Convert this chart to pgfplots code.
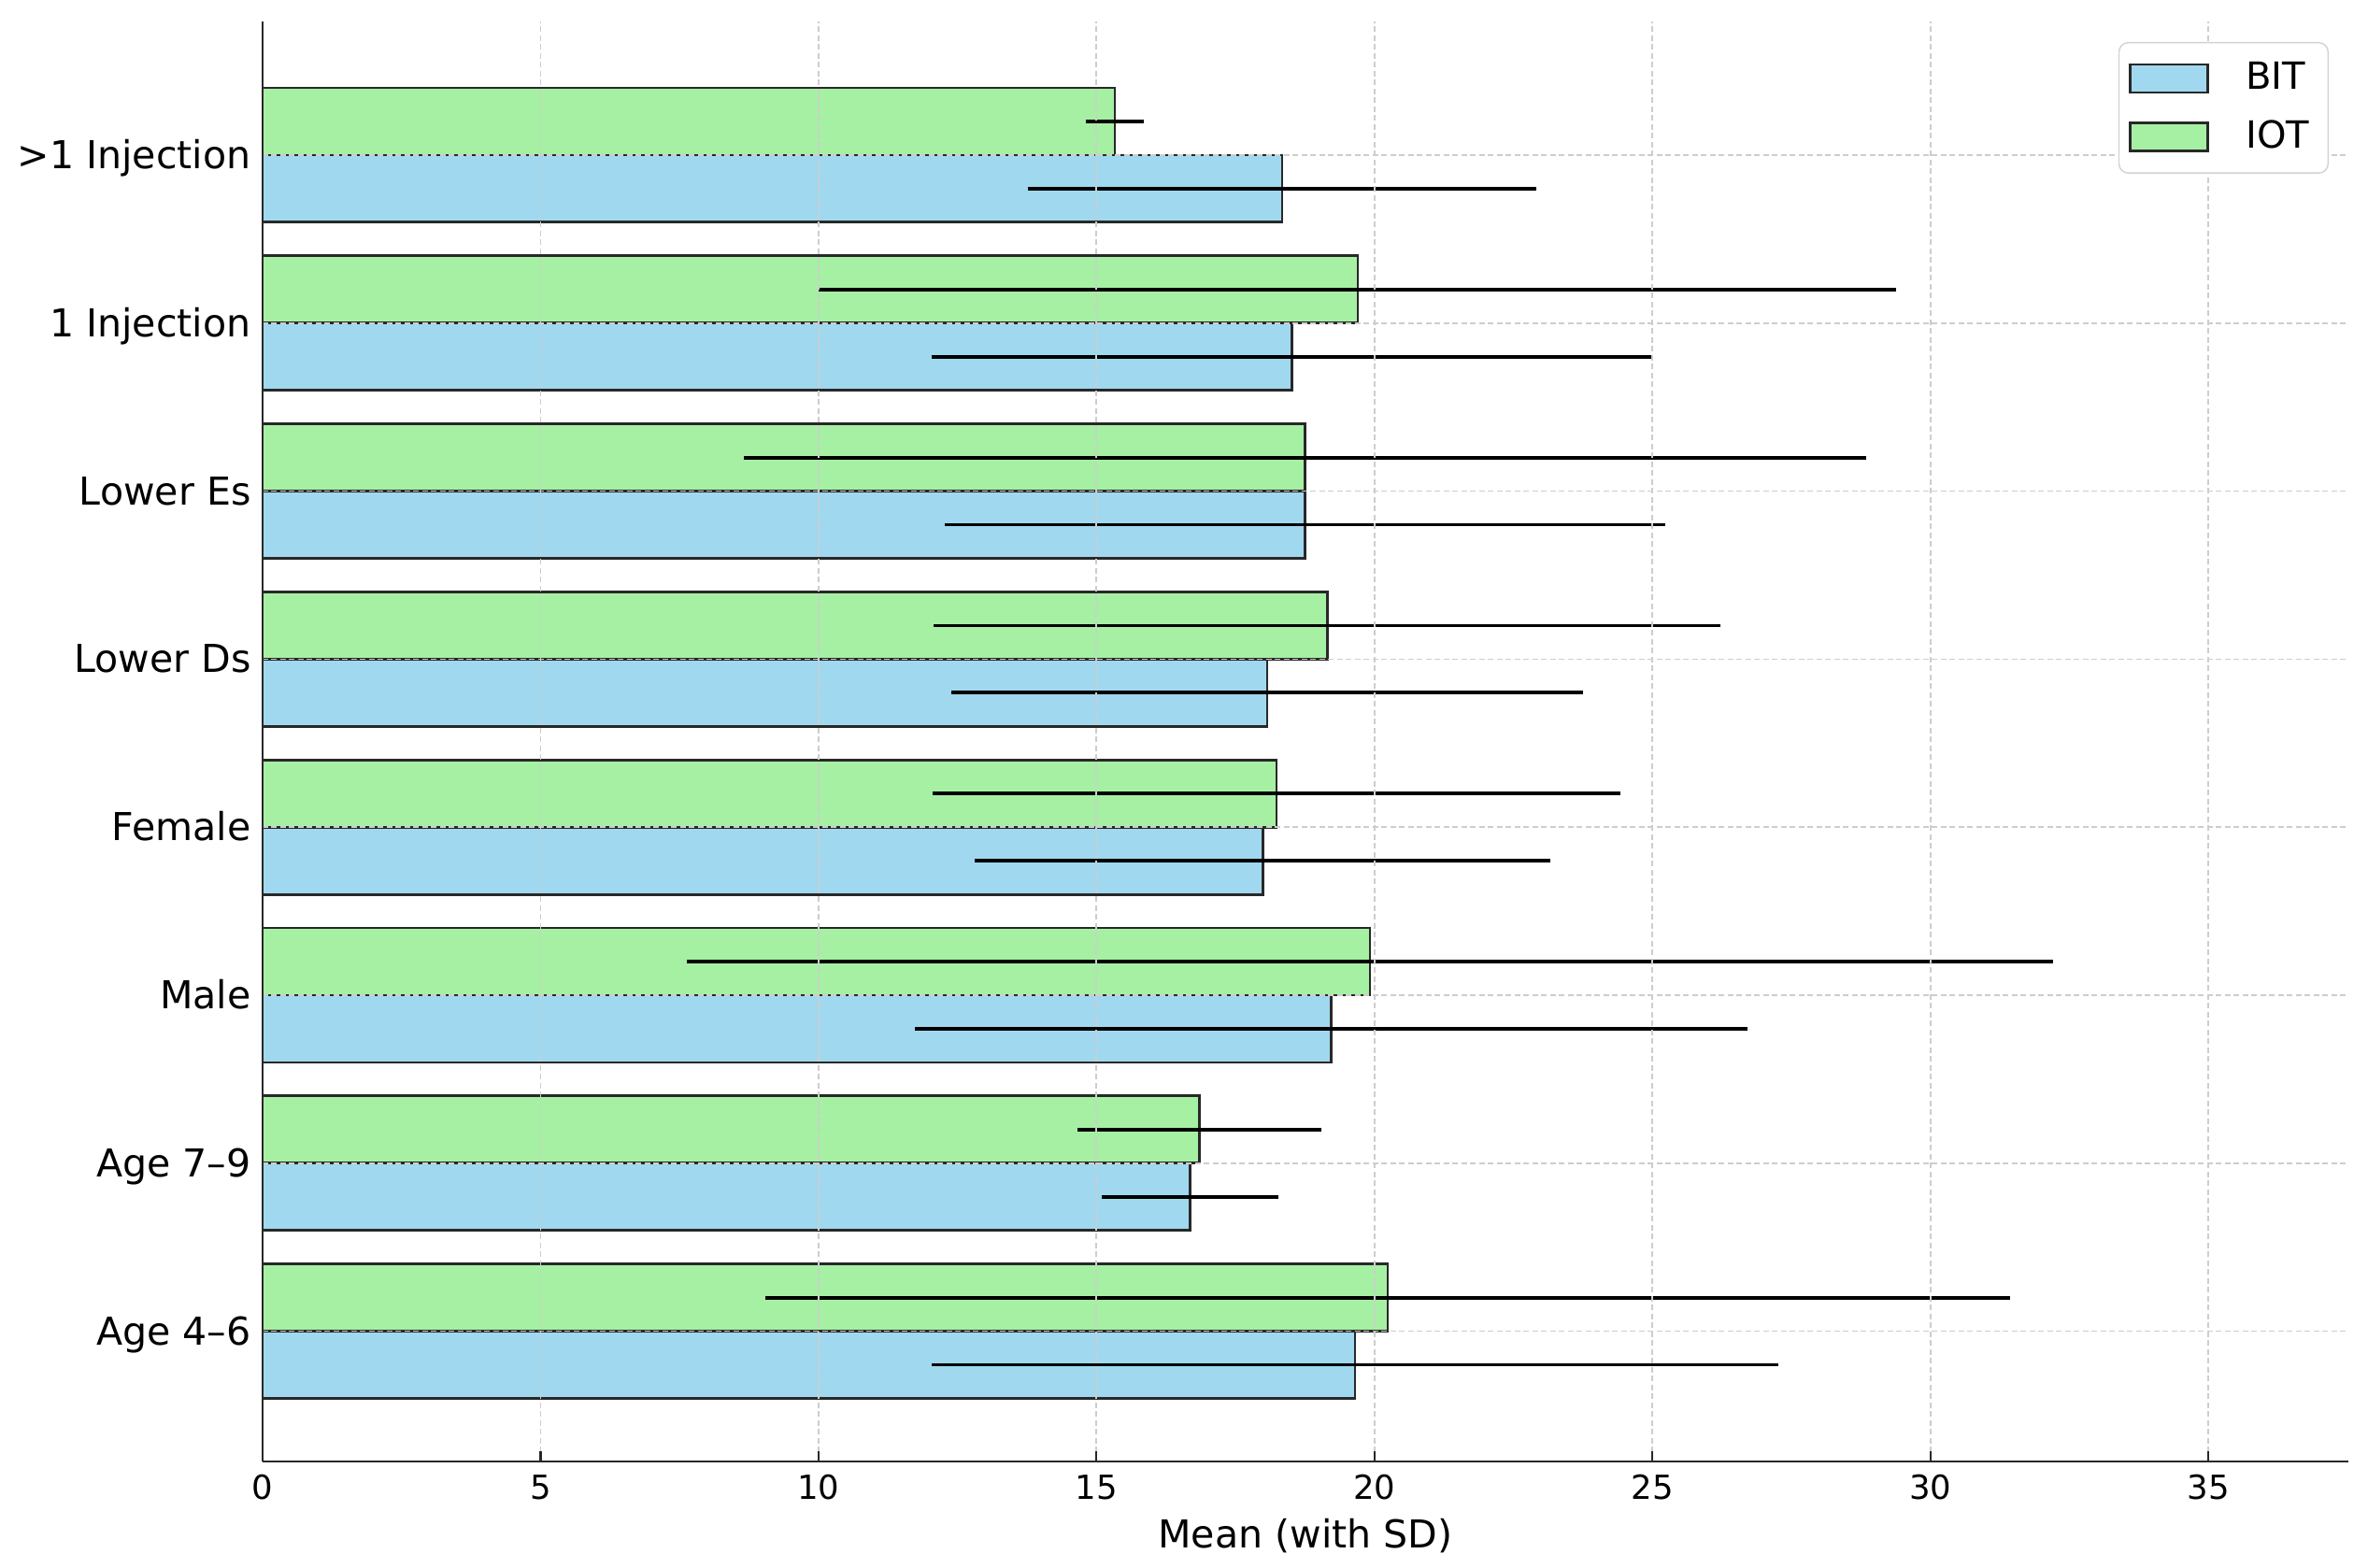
\documentclass[border=0pt]{standalone}
\usepackage{fontspec}
\setmainfont{DejaVu Sans}
\usepackage{pgfplots}
\pgfplotsset{compat=1.18}
\usepackage{pgfplotstable}
\definecolor{bitc}{RGB}{160,216,239}
\definecolor{iotc}{RGB}{166,240,163}
\definecolor{gridc}{RGB}{205,205,205}
\definecolor{edgec}{RGB}{40,40,40}

\pgfplotstableread{
y yb yi bit bitsd iot iotsd
0 -0.2 0.2 19.65 7.61 20.24 11.20
1 0.8 1.2 16.69 1.59 16.85 2.19
2 1.8 2.2 19.22 7.49 19.92 12.28
3 2.8 3.2 17.99 5.18 18.24 6.18
4 3.8 4.2 18.07 5.68 19.15 7.08
5 4.8 5.2 18.75 6.48 18.75 10.10
6 5.8 6.2 18.51 6.48 19.70 9.69
7 6.8 7.2 18.34 4.58 15.33 0.52
}\data

\begin{document}
\begin{tikzpicture}
\begin{axis}[
  scale only axis, width=223.2mm, height=154.1mm,
  xmin=0, xmax=37.52, ymin=-0.775, ymax=7.795,
  axis x line*=bottom, axis y line*=left,
  axis line style={line width=0.28mm, edgec, -},
  xtick={0,5,...,35}, ytick={0,...,7},
  yticklabels={Age 4--6, Age 7--9, Male, Female, Lower Ds, Lower Es, 1 Injection, >1 Injection},
  tick align=inside,
  major tick length=1.1mm,
  xtick style={line width=0.22mm, edgec},
  ytick style={draw=none},
  /pgf/number format/assume math mode=true,
  xticklabel style={font=\fontsize{10.1}{12}\selectfont, anchor=base, yshift=-4.1mm},
  yticklabel style={font=\fontsize{11.7}{14}\selectfont, anchor=base east, yshift=-1.45mm},
  xlabel={Mean (with SD)},
  xlabel style={font=\fontsize{11.7}{14}\selectfont, at={(axis description cs:0.5,0)}, anchor=base, yshift=-9.3mm},
  grid=major,
  major grid style={gridc, line width=0.17mm, dash pattern=on 0.6mm off 0.35mm},
  axis on top,
  legend style={at={(1,1)}, anchor=north east, xshift=-2.1mm, yshift=-2.2mm,
    draw=gray!35, rounded corners=1mm, fill=white,
    font=\fontsize{11.4}{13}\selectfont, inner xsep=0.4mm, inner ysep=0.9mm,
    row sep=0.4mm, nodes={inner xsep=1.6mm, inner ysep=1.2mm}},
  legend cell align=left,
  legend image code/.code={\draw[#1, sharp corners, line width=0.28mm] (0mm,-1.5mm) rectangle (8.3mm,1.5mm);
    \path[draw=none, fill=none] (-0.8mm,0) -- (10.8mm,0);},
]
\addplot[xbar, bar width=0.4, bar shift=-0.2, fill=bitc, draw=edgec, line width=0.28mm]
  table[x=bit, y=y]{\data};
\addlegendentry{BIT}
\addplot[xbar, bar width=0.4, bar shift=0.2, fill=iotc, draw=edgec, line width=0.28mm]
  table[x=iot, y=y]{\data};
\addlegendentry{IOT}
\addplot[forget plot, draw=none, no markers,
  error bars/.cd, x dir=both, x explicit, error mark=none,
  error bar style={draw=black, line width=0.38mm, solid}]
  table[x=bit, y=yb, x error=bitsd]{\data};
\addplot[forget plot, draw=none, no markers,
  error bars/.cd, x dir=both, x explicit, error mark=none,
  error bar style={draw=black, line width=0.38mm, solid}]
  table[x=iot, y=yi, x error=iotsd]{\data};
\end{axis}
\pgfresetboundingbox
\path ([shift={(-28.1mm,-11.4mm)}]current axis.south west) rectangle ([shift={(2.1mm,2.3mm)}]current axis.north east);
\end{tikzpicture}
\end{document}
